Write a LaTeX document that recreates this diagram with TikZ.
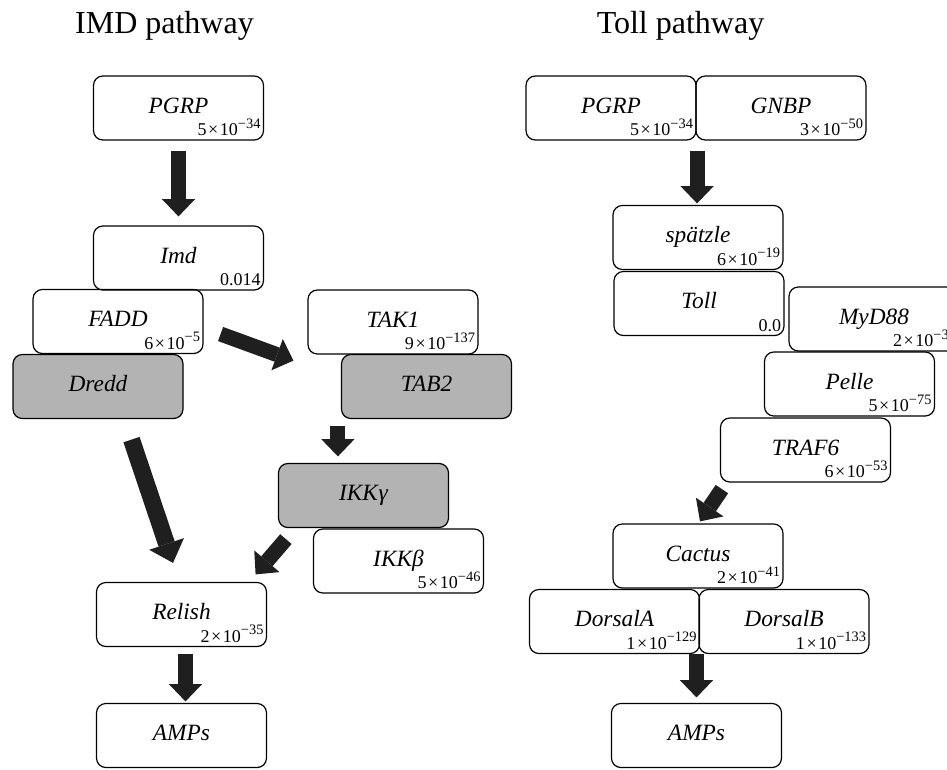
\documentclass[tikz,border=0pt]{standalone}
\usepackage{fontspec}
\setmainfont{Liberation Serif}
\usetikzlibrary{arrows.meta,calc}
\definecolor{boxgray}{RGB}{179,179,179}
\newcommand{\tenpow}[2]{#1\kern1.2pt×\kern1.2pt10\raisebox{0.42em}{\fontsize{10.8}{12}\selectfont −#2}}

\begin{document}
\begin{tikzpicture}[x=0.75pt,y=-0.75pt,
	prot/.style={draw,rounded corners=7pt,line width=0.9pt,minimum width=127.5pt,minimum height=48pt,inner sep=0pt,text height=12pt,text depth=4.5pt,font=\itshape\fontsize{17.5}{20}\selectfont},
	hit/.style={prot,fill=boxgray},
	val/.style={anchor=base east,xshift=-2.5pt,yshift=3.5pt,inner sep=0pt,text height=,text depth=,font=\upshape\fontsize{13.5}{15}\selectfont},
	fat/.style={line width=11.25pt,draw=black!88,-{Triangle[width=25pt,length=13pt,line width=0pt]}},
	fatter/.style={fat,line width=12.75pt,-{Triangle[width=27.5pt,length=15pt,line width=0pt]}},
	title/.style={anchor=base,font=\fontsize{24}{28}\selectfont}]
		\useasboundingbox (0,0) rectangle (947,769);
		\node[title] (titleI) at (164.5,33) {IMD pathway};
		\node[title] (titleT) at (680.5,33) {Toll pathway};
		% IMD side
		\node[prot,label={[val]south east:\tenpow{5}{34}}] (pgrpI) at (178.5,108) {PGRP};
		\node[prot,label={[val]south east:0.014}] (imd) at (178.5,258) {Imd};
		\node[prot,label={[val]south east:\tenpow{6}{5}}] (fadd) at (118,321.5) {FADD};
		\node[hit] (dredd) at (98,386.5) {Dredd};
		\node[prot,label={[val]south east:\tenpow{9}{137}}] (tak1) at (393,322) {TAK1};
		\node[hit] (tab2) at (426.5,386.5) {TAB2};
		\node[hit] (ikkg) at (363.5,495.5) {IKK\kern0.5ptγ};
		\node[prot,label={[val]south east:\tenpow{5}{46}}] (ikkb) at (398.5,561) {IKKβ};
		\node[prot,label={[val]south east:\tenpow{2}{35}}] (relish) at (181.5,614.5) {Relish};
		\node[prot] (ampsI) at (181.5,735.5) {AMPs};
		% Toll side
		\node[prot,label={[val]south east:\tenpow{5}{34}}] (pgrpT) at (611,108) {PGRP};
		\node[prot,label={[val]south east:\tenpow{3}{50}}] (gnbp) at (781,108) {GNBP};
		\node[prot,label={[val]south east:\tenpow{6}{19}}] (spaetzle) at (698,237.5) {spätzle};
		\node[prot,label={[val]south east:0.0}] (toll) at (699,303.5) {Toll};
		\node[prot,label={[val]south east:\tenpow{2}{39}}] (myd88) at (874,319) {MyD88};
		\node[prot,label={[val]south east:\tenpow{5}{75}}] (pelle) at (849.5,384) {Pelle};
		\node[prot,label={[val]south east:\tenpow{6}{53}}] (traf6) at (805.5,450) {TRAF6};
		\node[prot,label={[val]south east:\tenpow{2}{41}}] (cactus) at (698,556) {Cactus};
		\node[prot,label={[val]south east:\tenpow{1}{129}}] (dorsalA) at (614.5,621.5) {DorsalA};
		\node[prot,label={[val]south east:\tenpow{1}{133}}] (dorsalB) at (784,621.5) {DorsalB};
		\node[prot] (ampsT) at (696.5,735.5) {AMPs};
		% arrows
		\draw[fat,shorten <=7.5pt,shorten >=6.75pt] (pgrpI.south) -- (imd.north);
		\draw[fat] ($(fadd.east)+(17,12.5)$) -- ($(tak1.south west)+(-14,6)$);
		\draw[fatter] ($(dredd.south)+(33.5,20.5)$) -- ($(relish.north)+(-8.5,-19)$);
		\draw[fat] ($(tab2.south west)+(-3,6.5)$) -- ($(tab2.south west |- ikkg.north)+(-3,-6.5)$);
		\draw[fat] ($(ikkg.south west)+(8,11)$) -- ($(relish.north east)+(-11.5,-7.5)$);
		\draw[fat] ($(relish.south)+(4,6.5)$) -- ($(ampsI.north)+(4,-1.5)$);
		\draw[fat] ($(pgrpT.south east)+(0.5,10)$) -- ($(pgrpT.south east |- spaetzle.north)+(0.5,-1.5)$);
		\draw[fat] ($(traf6.south west)+(2,6.5)$) -- ($(cactus.north)+(2,-2)$);
		\draw[fat,shorten >=4.1pt] (dorsalA.south east -| ampsT.north) -- (ampsT.north);
\end{tikzpicture}
\end{document}
